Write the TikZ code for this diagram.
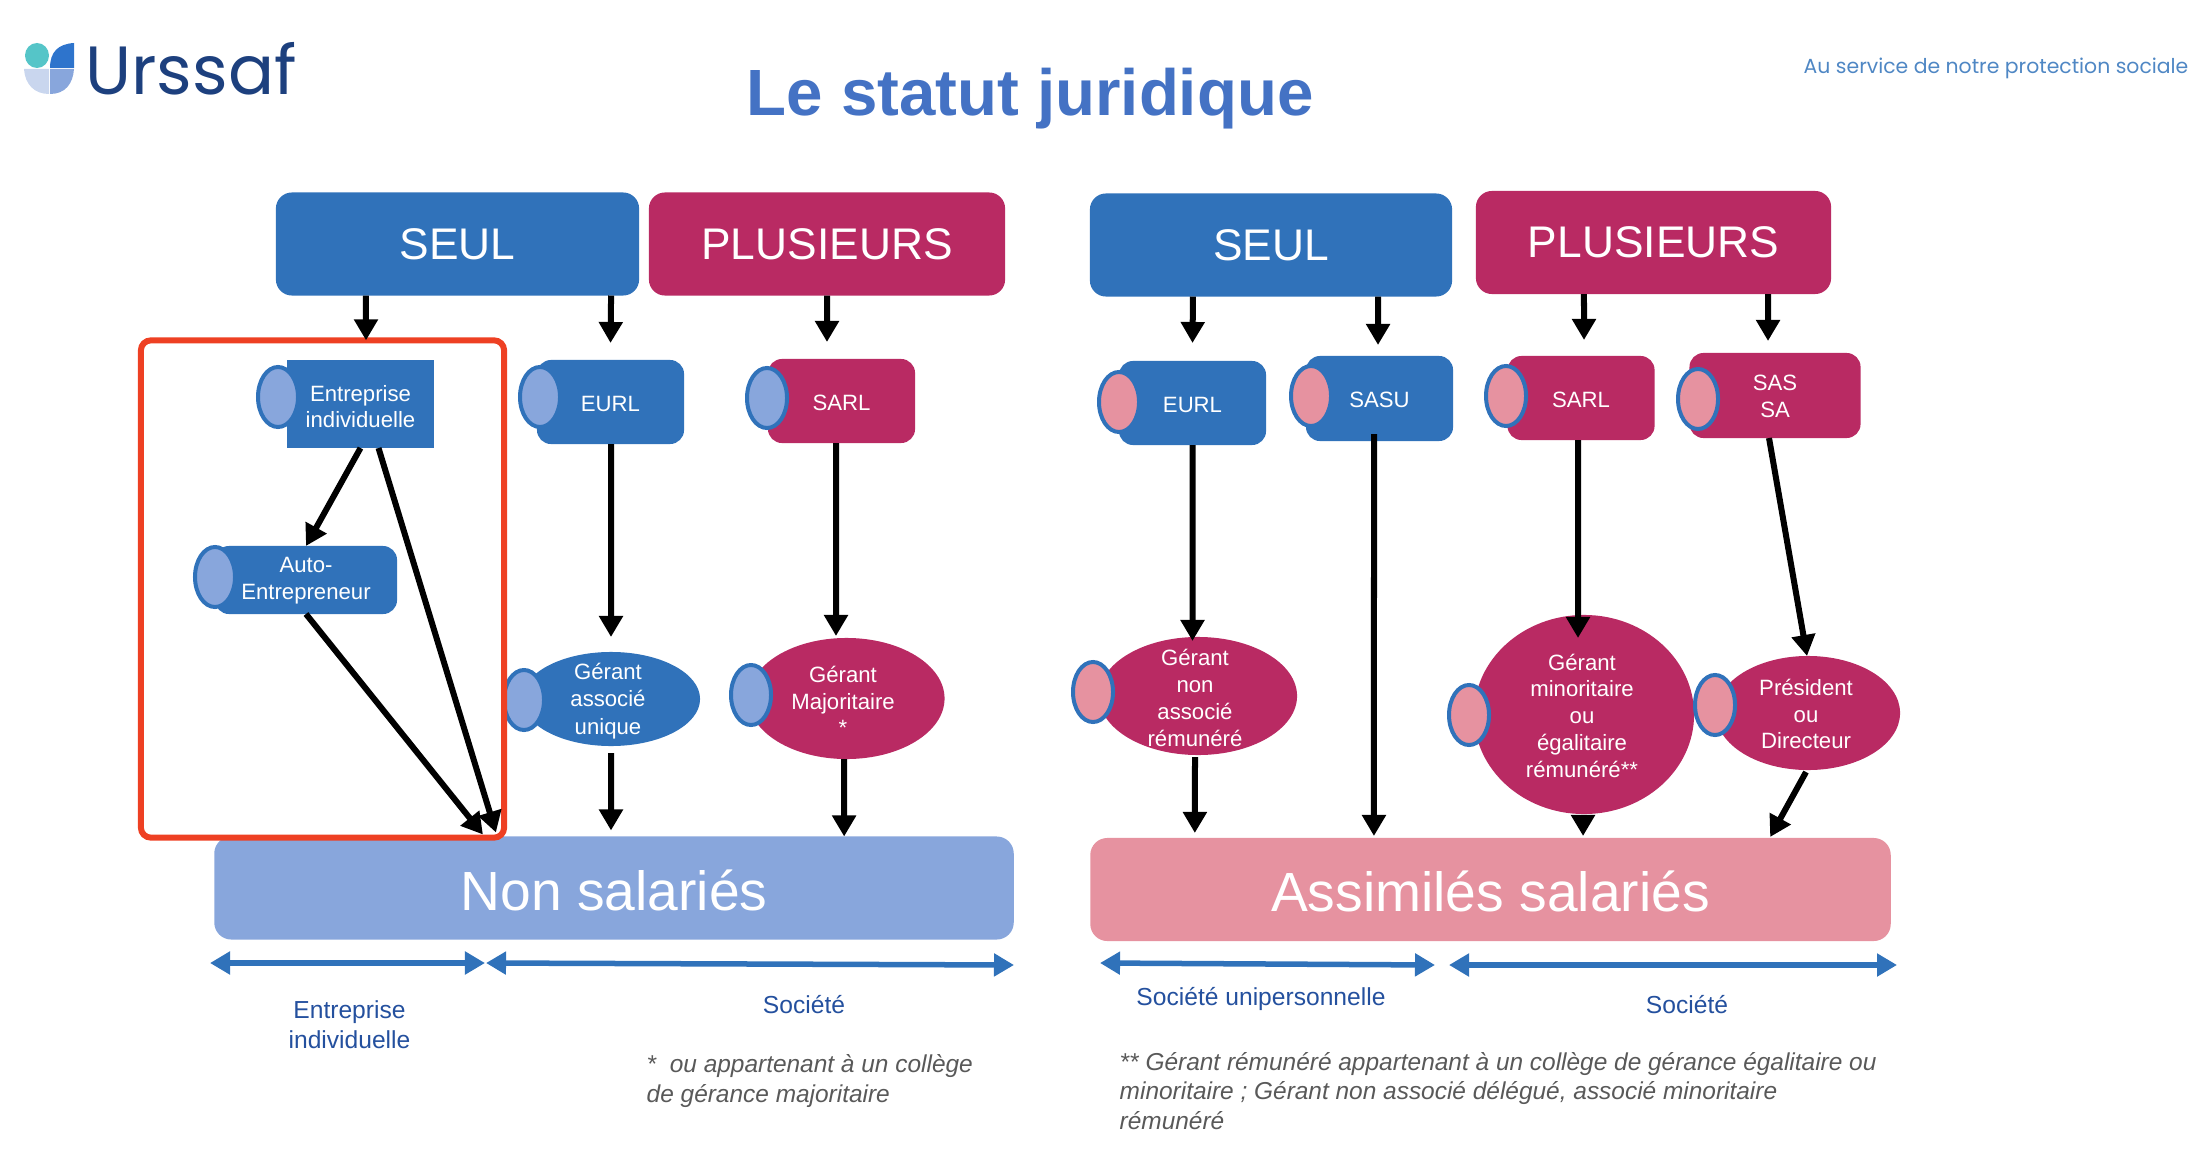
\documentclass[tikz,border=0pt]{standalone}
\usepackage{fontspec}
\setmainfont{Liberation Sans}
\newfontfamily\logofont{Poppins}
\usetikzlibrary{arrows.meta,shapes.geometric}
\definecolor{bleu}{HTML}{3072BA}
\definecolor{cramoisi}{HTML}{B92A63}
\definecolor{bleuclair}{HTML}{88A6DC}
\definecolor{rose}{HTML}{E692A0}
\definecolor{rouge}{HTML}{EE4023}
\definecolor{marine}{HTML}{24509E}
\definecolor{titre}{HTML}{4472C4}
\definecolor{tealU}{HTML}{55C5C8}
\definecolor{bleuU}{HTML}{2E74CC}
\definecolor{lavU}{HTML}{C9D6EE}
\tikzset{
	boite/.style={rectangle,rounded corners=.14cm,inner sep=0,outer sep=0,text=white,align=center,font=\fontsize{6.3}{7.7}\selectfont,execute at begin node={\rule{0pt}{5.4pt}}},
	grande/.style={boite,rounded corners=.16cm,minimum height=1.03cm,font=\fontsize{12.6}{15}\selectfont},
	large/.style={boite,rounded corners=.17cm,minimum height=1.03cm,font=\fontsize{15.7}{18}\selectfont,execute at begin node={\rule{0pt}{12.8pt}}},
	rond/.style={ellipse,inner sep=0,outer sep=0},
	lab/.style={inner sep=0,text=white,align=center,font=\fontsize{6.3}{7.6}\selectfont},
	bille/.style={ellipse,inner sep=0,outer sep=0,draw=bleu,line width=.04cm,minimum width=.4cm,minimum height=.6cm},
	fl/.style={line width=.06cm,-{Triangle[width=.23cm,length=.21cm]}},
	dbl/.style={line width=.055cm,bleu,{Triangle[width=.22cm,length=.2cm]}-{Triangle[width=.22cm,length=.2cm]}},
	legende/.style={inner sep=0,text=marine,align=center,font=\fontsize{7}{8.6}\selectfont},
	note/.style={inner sep=0,text=black!65,align=left,anchor=west,font=\fontsize{6.95}{8.5}\itshape\selectfont}
}
\begin{document}
\begin{tikzpicture}[x=.01cm,y=-.01cm]
	\useasboundingbox (0,0) rectangle (2198,1152);
	\fill[tealU] (37,55.5) ellipse (12 and 12.5);
	\fill[bleuU] (50,68) .. controls (50,52) and (58,44) .. (74,43) -- (74,68) -- cycle;
	\fill[lavU] (24,69) -- (49,69) -- (49,94) .. controls (34,94) and (25,84) .. (24,69) -- cycle;
	\fill[bleuclair] (50,69) -- (74,69) .. controls (73,84) and (65,94) .. (50,94) -- cycle;
	\node[inner sep=0,text=marine!80!black,font=\fontsize{19.4}{24}\logofont\selectfont] (U) at (191,69) {Urssaf};
	\node[inner sep=0,text=titre,font=\fontsize{18.6}{22}\bfseries\selectfont] (T) at (1030,99) {Le statut juridique};
	\node[inner sep=0,text=bleu!85!white,font=\fontsize{5.8}{8}\logofont\selectfont] (D) at (1996,68.5) {Au service de notre protection sociale};

	\node[grande,fill=bleu,minimum width=3.63cm] (SA) at (457.5,244) {SEUL};
	\node[grande,fill=cramoisi,minimum width=3.56cm] (PA) at (827,244) {PLUSIEURS};
	\node[grande,fill=bleu,minimum width=3.62cm] (SB) at (1271,245) {SEUL};
	\node[grande,fill=cramoisi,minimum width=3.55cm] (PB) at (1653.5,242.5) {PLUSIEURS};

	\node[boite,fill=bleu,rounded corners=0,minimum width=1.47cm,minimum height=.88cm] (EI) at (360.5,404) {};
	\node[lab] (EIt) at (360.5,406.5) {Entreprise\\individuelle};
	\node[bille,fill=bleuclair] (EIb) at (278,397) {};
	\node[boite,fill=bleu,minimum width=1.47cm,minimum height=.84cm] (EA) at (610.5,402) {EURL};
	\node[bille,fill=bleuclair] (EAb) at (540,397) {};
	\node[boite,fill=cramoisi,minimum width=1.47cm,minimum height=.84cm] (SL) at (841.5,401) {SARL};
	\node[bille,fill=bleuclair] (SLb) at (767,398) {};
	\node[boite,fill=bleu,minimum width=1.82cm,minimum height=.68cm] (AE) at (306,580) {};
	\node[lab] (AEt) at (306,581) {Auto-\\Entrepreneur};
	\node[bille,fill=bleuclair] (AEb) at (215,577) {};
	\node[boite,fill=bleu,minimum width=1.47cm,minimum height=.84cm] (EB) at (1192.5,403) {EURL};
	\node[bille,fill=rose] (EBb) at (1119,402) {};
	\node[boite,fill=bleu,minimum width=1.47cm,minimum height=.85cm] (SU) at (1379.5,398.5) {SASU};
	\node[bille,fill=rose] (SUb) at (1311,396) {};
	\node[boite,fill=cramoisi,minimum width=1.47cm,minimum height=.84cm] (SC) at (1581,398) {SARL};
	\node[bille,fill=rose] (SCb) at (1506,396) {};
	\node[boite,fill=cramoisi,minimum width=1.71cm,minimum height=.85cm] (SS) at (1775,395.5) {};
	\node[lab] (SSt) at (1775,396.5) {SAS\\SA};
	\node[bille,fill=rose] (SSb) at (1698,399) {};

	\node[rond,fill=bleu,minimum width=1.78cm,minimum height=.94cm] (GA) at (611,699) {};
	\node[lab,font=\fontsize{6.3}{7.9}\selectfont] (GAt) at (608,701) {Gérant\\associé\\unique};
	\node[bille,fill=bleuclair] (GAb) at (524,700) {};
	\node[rond,fill=cramoisi,minimum width=1.96cm,minimum height=1.21cm] (GM) at (846.5,698.5) {};
	\node[lab] (GMt) at (843,701) {Gérant\\Majoritaire\\*};
	\node[bille,fill=bleuclair] (GMb) at (751,695) {};
	\node[rond,fill=cramoisi,minimum width=1.98cm,minimum height=1.18cm] (GN) at (1198,696) {};
	\node[lab] (GNt) at (1195,698) {Gérant\\non\\associé\\rémunéré};
	\node[bille,fill=rose] (GNb) at (1093,692) {};
	\node[rond,fill=cramoisi,minimum width=2.2cm,minimum height=1.99cm] (GI) at (1584,714.5) {};
	\node[lab] (GIt) at (1582,715.5) {Gérant\\minoritaire\\ou\\égalitaire\\rémunéré**};
	\node[bille,fill=rose] (GIb) at (1469,715) {};
	\node[rond,fill=cramoisi,minimum width=1.84cm,minimum height=1.14cm] (PR) at (1808,713) {};
	\node[lab] (PRt) at (1806,714) {Président\\ou\\Directeur};
	\node[bille,fill=rose] (PRb) at (1715,705) {};

	\node[large,fill=bleuclair,minimum width=7.99cm] (NS) at (614,888) {Non salariés};
	\node[large,fill=rose,minimum width=8cm] (AS) at (1490.5,889.5) {Assimilés salariés};
	\node[draw=rouge,line width=.06cm,rounded corners=.1cm,inner sep=0,outer sep=0,minimum width=3.63cm,minimum height=4.97cm] (R) at (322.5,589) {};

	\draw[fl] ([xshift=-.915cm]SA.south) -- ([xshift=.435cm]R.north);
	\draw[fl] ([xshift=1.535cm]SA.south) -- ([yshift=.17cm]EA.north);
	\draw[fl] (PA.south) -- ([xshift=-.145cm,yshift=.17cm]SL.north);
	\draw[fl] (EI.south) -- (AE.north);
	\draw[fl] ([xshift=.18cm]EI.south) -- ([xshift=-1.18cm,yshift=.04cm]NS.north);
	\draw[fl] (AE.south) -- ([xshift=-1.31cm,yshift=.02cm]NS.north);
	\draw[fl] ([xshift=.005cm]EA.south) -- ([yshift=.15cm]GA.north);
	\draw[fl] ([xshift=-.055cm]SL.south) -- ([xshift=-.105cm,yshift=.02cm]GM.north);
	\draw[fl] ([yshift=-.07cm]GA.south) -- ([xshift=-.03cm,yshift=.06cm]NS.north);
	\draw[fl] ([xshift=-.025cm]GM.south) -- ([xshift=2.3cm]NS.north);
	\draw[fl] ([xshift=-.78cm]SB.south) -- ([yshift=.18cm]EB.north);
	\draw[fl] ([xshift=1.07cm]SB.south) -- ([xshift=-.015cm,yshift=.11cm]SU.north);
	\draw[fl] ([xshift=-.695cm]PB.south) -- ([xshift=.03cm,yshift=.16cm]SC.north);
	\draw[fl] ([xshift=1.145cm]PB.south) -- ([xshift=-.07cm,yshift=.12cm]SS.north);
	\draw[fl] (EB.south) -- ([xshift=-.055cm,yshift=-.04cm]GN.north);
	\draw[fl] ([xshift=-.055cm,yshift=.07cm]SU.south) -- ([xshift=-1.165cm,yshift=.02cm]AS.north);
	\draw[fl] ([xshift=-.03cm]SC.south) -- ([xshift=-.06cm,yshift=-.23cm]GI.north);
	\draw[fl] ([xshift=-.06cm]SS.south) -- ([xshift=-.01cm]PR.north);
	\draw[fl] ([xshift=-.03cm,yshift=-.02cm]GN.south) -- ([xshift=-2.955cm,yshift=.05cm]AS.north);
	\draw[fl] ([xshift=-.01cm,yshift=-.01cm]GI.south) -- ([xshift=.925cm,yshift=.02cm]AS.north);
	\draw[fl] ([xshift=-.02cm,yshift=-.02cm]PR.south) -- ([xshift=2.795cm,yshift=.01cm]AS.north);

	\coordinate (F1) at (210,963);
	\coordinate (F2) at (485,963);
	\coordinate (F3) at (486,963);
	\coordinate (F4) at (1014,965);
	\coordinate (F5) at (1100,963);
	\coordinate (F6) at (1435,965);
	\coordinate (F7) at (1449,965);
	\coordinate (F8) at (1897,965);
	\draw[dbl] (F1) -- (F2);
	\draw[dbl] (F3) -- (F4);
	\draw[dbl] (F5) -- (F6);
	\draw[dbl] (F7) -- (F8);

	\node[legende] (L1) at (349.5,1025) {Entreprise\\individuelle};
	\node[legende] (L2) at (804,1005) {Société};
	\node[legende] (L3) at (1261,999) {Société unipersonnelle};
	\node[legende] (L4) at (1687,1005) {Société};
	\node[note] (N1) at (646,1081) {*\ \ ou appartenant à un collège\\de gérance majoritaire};
	\node[note] (N2) at (1119,1091) {** Gérant rémunéré appartenant à un collège de gérance égalitaire ou\\minoritaire ; Gérant non associé délégué, associé minoritaire\\rémunéré};
\end{tikzpicture}
\end{document}
